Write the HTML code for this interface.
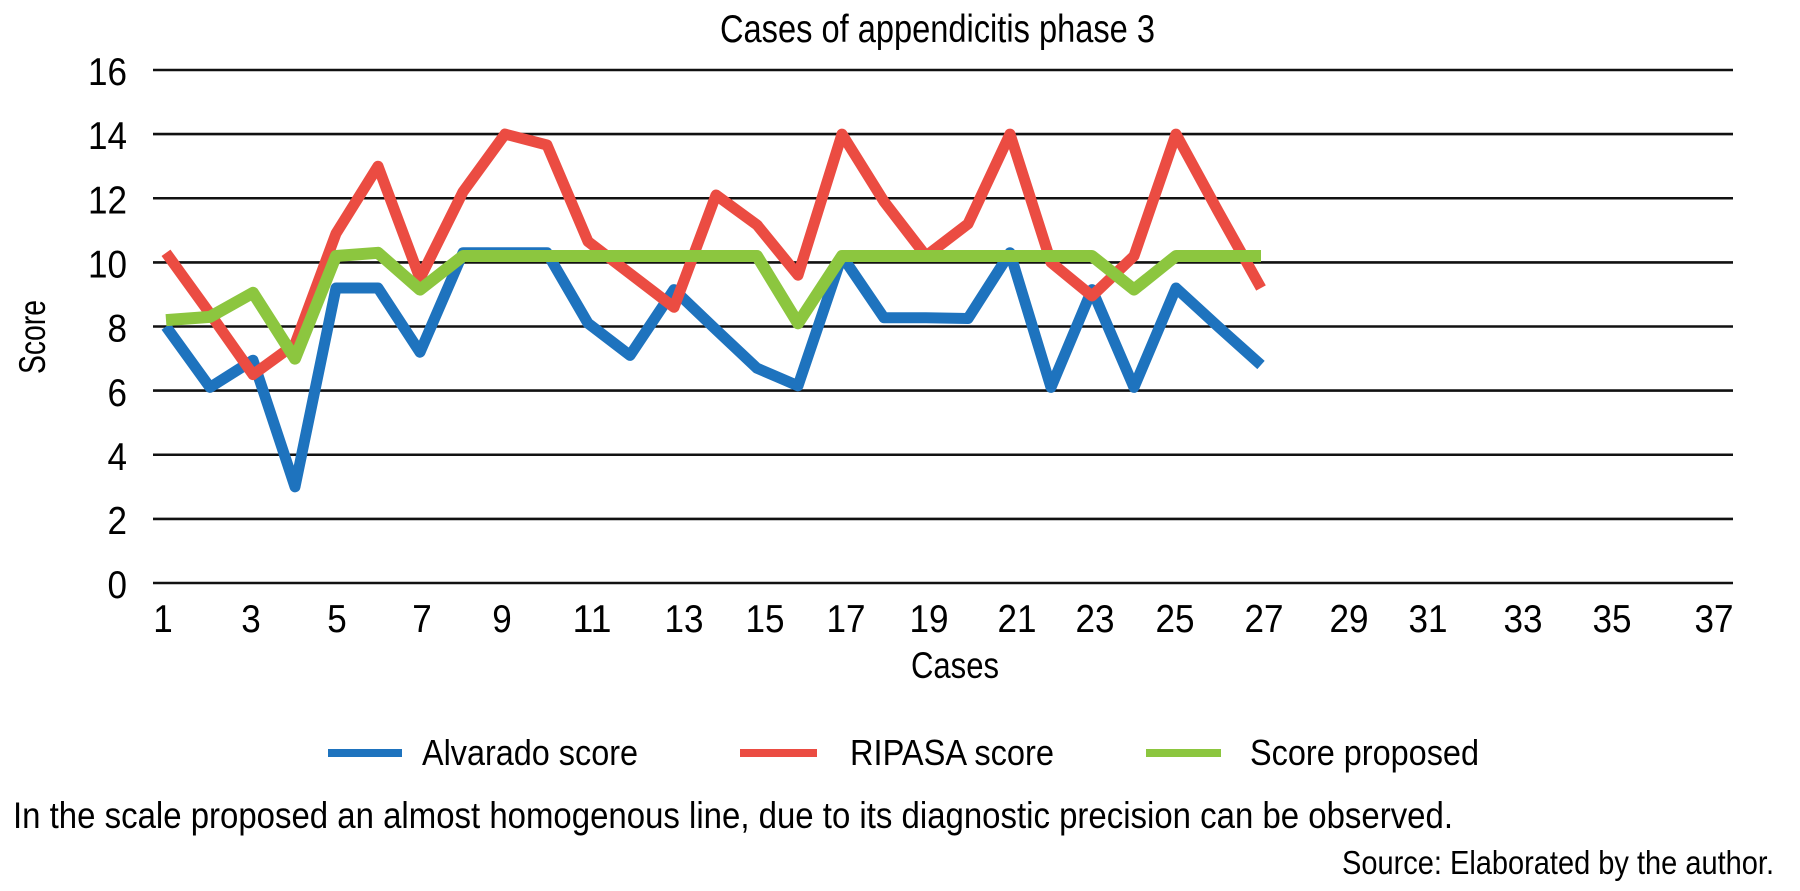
<!DOCTYPE html>
<html>
<head>
<meta charset="utf-8">
<style>
html,body{margin:0;padding:0;background:#fff;}
svg{display:block;}
text{font-family:"Liberation Sans",Arial,sans-serif;fill:#000;}
</style>
</head>
<body>
<svg width="1800" height="891" viewBox="0 0 1800 891" xmlns="http://www.w3.org/2000/svg">
<rect x="0" y="0" width="1800" height="891" fill="#fff"/>

<!-- Title -->
<text x="720" y="42" font-size="39" textLength="435" lengthAdjust="spacingAndGlyphs">Cases of appendicitis phase 3</text>

<!-- Gridlines -->
<g stroke="#111" stroke-width="2.6">
<line x1="153" y1="583" x2="1733" y2="583"/>
<line x1="153" y1="518.9" x2="1733" y2="518.9"/>
<line x1="153" y1="454.75" x2="1733" y2="454.75"/>
<line x1="153" y1="390.6" x2="1733" y2="390.6"/>
<line x1="153" y1="326.5" x2="1733" y2="326.5"/>
<line x1="153" y1="262.4" x2="1733" y2="262.4"/>
<line x1="153" y1="198.25" x2="1733" y2="198.25"/>
<line x1="153" y1="134.1" x2="1733" y2="134.1"/>
<line x1="153" y1="70" x2="1733" y2="70"/>
</g>

<!-- Y tick labels -->
<g font-size="39" text-anchor="end">
<text x="127" y="598" textLength="19.5" lengthAdjust="spacingAndGlyphs">0</text>
<text x="127" y="534" textLength="19.5" lengthAdjust="spacingAndGlyphs">2</text>
<text x="127" y="470" textLength="19.5" lengthAdjust="spacingAndGlyphs">4</text>
<text x="127" y="406" textLength="19.5" lengthAdjust="spacingAndGlyphs">6</text>
<text x="127" y="341.5" textLength="19.5" lengthAdjust="spacingAndGlyphs">8</text>
<text x="127" y="277.5" textLength="39" lengthAdjust="spacingAndGlyphs">10</text>
<text x="127" y="213.5" textLength="39" lengthAdjust="spacingAndGlyphs">12</text>
<text x="127" y="149" textLength="39" lengthAdjust="spacingAndGlyphs">14</text>
<text x="127" y="85" textLength="39" lengthAdjust="spacingAndGlyphs">16</text>
</g>

<!-- Y axis title -->
<text transform="translate(45,337) rotate(-90)" font-size="37" text-anchor="middle" textLength="74" lengthAdjust="spacingAndGlyphs">Score</text>

<!-- X tick labels -->
<g font-size="39" text-anchor="middle">
<text x="163" y="632" textLength="19.5" lengthAdjust="spacingAndGlyphs">1</text>
<text x="251" y="632" textLength="19.5" lengthAdjust="spacingAndGlyphs">3</text>
<text x="337" y="632" textLength="19.5" lengthAdjust="spacingAndGlyphs">5</text>
<text x="422" y="632" textLength="19.5" lengthAdjust="spacingAndGlyphs">7</text>
<text x="502" y="632" textLength="19.5" lengthAdjust="spacingAndGlyphs">9</text>
<text x="592" y="632" textLength="39" lengthAdjust="spacingAndGlyphs">11</text>
<text x="684" y="632" textLength="39" lengthAdjust="spacingAndGlyphs">13</text>
<text x="765" y="632" textLength="39" lengthAdjust="spacingAndGlyphs">15</text>
<text x="846" y="632" textLength="39" lengthAdjust="spacingAndGlyphs">17</text>
<text x="929" y="632" textLength="39" lengthAdjust="spacingAndGlyphs">19</text>
<text x="1017" y="632" textLength="39" lengthAdjust="spacingAndGlyphs">21</text>
<text x="1095" y="632" textLength="39" lengthAdjust="spacingAndGlyphs">23</text>
<text x="1175" y="632" textLength="39" lengthAdjust="spacingAndGlyphs">25</text>
<text x="1264" y="632" textLength="39" lengthAdjust="spacingAndGlyphs">27</text>
<text x="1349" y="632" textLength="39" lengthAdjust="spacingAndGlyphs">29</text>
<text x="1428" y="632" textLength="39" lengthAdjust="spacingAndGlyphs">31</text>
<text x="1523" y="632" textLength="39" lengthAdjust="spacingAndGlyphs">33</text>
<text x="1612" y="632" textLength="39" lengthAdjust="spacingAndGlyphs">35</text>
<text x="1714" y="632" textLength="39" lengthAdjust="spacingAndGlyphs">37</text>
</g>

<!-- X axis title -->
<text x="911" y="678" font-size="37" textLength="88" lengthAdjust="spacingAndGlyphs">Cases</text>

<!-- Series -->
<g fill="none" stroke-linejoin="round" stroke-linecap="butt">
<polyline stroke="#1E73BE" stroke-width="11" points="166,326.5 210,387.4 253,360.2 295,486.8 336,288 378,288 420,352.2 463,252.8 505,252.8 547,252.8 588,323.3 630,355.4 674,289.6 716,329.7 757,368.2 798,385.8 842,256 884,317.8 926,317.8 968,318.5 1010,252.8 1051,387.4 1092,289.6 1134,387.4 1176,288 1218,326.5 1261,365"/>
<polyline stroke="#EB4C42" stroke-width="11" points="166,252.8 210,313.7 253,374.6 295,344.1 336,233.5 378,166.2 420,278.4 463,191.8 505,134.1 547,145 588,241.5 630,273.6 674,307.3 716,195 757,224.9 798,275.2 842,134.1 884,201.5 926,256 968,223.9 1010,134.1 1051,262.4 1092,296 1134,256 1176,134.1 1218,211.1 1261,288"/>
<polyline stroke="#8CC63F" stroke-width="12" points="166,320.1 210,316.9 253,292.8 295,358.6 336,256 378,252.8 420,289.6 463,256 505,256 547,256 588,256 630,256 674,256 716,256 757,256 798,323.3 842,256 884,256 926,256 968,256 1010,256 1051,256 1092,256 1134,289.6 1176,256 1218,256 1261,256"/>
</g>

<!-- Legend -->
<g stroke-width="8">
<line x1="328" y1="753" x2="402" y2="753" stroke="#1E73BE"/>
<line x1="740" y1="753" x2="817" y2="753" stroke="#EB4C42"/>
<line x1="1146" y1="753" x2="1221" y2="753" stroke="#8CC63F"/>
</g>
<g font-size="36">
<text x="422" y="765" textLength="216" lengthAdjust="spacingAndGlyphs">Alvarado score</text>
<text x="850" y="765" textLength="204" lengthAdjust="spacingAndGlyphs">RIPASA score</text>
<text x="1250" y="765" textLength="229" lengthAdjust="spacingAndGlyphs">Score proposed</text>
</g>

<!-- Caption -->
<text x="13" y="828" font-size="37" textLength="1440" lengthAdjust="spacingAndGlyphs">In the scale proposed an almost homogenous line, due to its diagnostic precision can be observed.</text>
<text x="1342" y="874" font-size="33" textLength="432" lengthAdjust="spacingAndGlyphs">Source: Elaborated by the author.</text>
</svg>
</body>
</html>
